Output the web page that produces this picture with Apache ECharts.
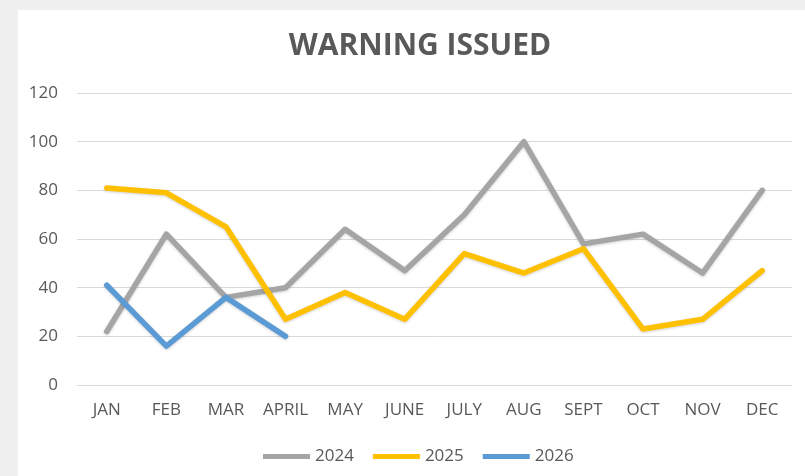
<!DOCTYPE html>
<html>
<head>
<meta charset="utf-8">
<script src="https://cdn.jsdelivr.net/npm/echarts@6/dist/echarts.min.js"></script>
<style>
  html, body { margin: 0; padding: 0; background: #f0f0f0; }
  #chart { width: 805px; height: 476px; }
</style>
</head>
<body>
<div id="chart"></div>
<script>
var months = ['JAN', 'FEB', 'MAR', 'APRIL', 'MAY', 'JUNE', 'JULY', 'AUG', 'SEPT', 'OCT', 'NOV', 'DEC']
var y2024 = [22, 62, 36, 40, 64, 47, 70, 100, 58, 62, 46, 80]
var y2025 = [81, 79, 65, 27, 38, 27, 54, 46, 56, 23, 27, 47]
var y2026 = [41, 16, 36, 20]
var seriesNames = ['2024', '2025', '2026']
var colors = ['#a5a5a5', '#ffc000', '#5b9bd5']

var chart = echarts.init(document.getElementById('chart'))

function lineSeries (name, data, color) {
  return {
    name: name,
    type: 'line',
    data: data,
    symbol: 'none',
    color: color,
    lineStyle: {
      width: 5.5,
      color: color,
      join: 'round',
      cap: 'round',
      shadowColor: 'rgba(0,0,0,0.18)',
      shadowBlur: 3,
      shadowOffsetY: 1
    }
  }
}

var option = {
  backgroundColor: '#f0f0f0',
  animation: false,
  textStyle: { fontFamily: 'Open Sans' },
  graphic: [{
    type: 'rect',
    shape: { x: 18, y: 10, width: 787, height: 466 },
    style: { fill: '#ffffff' },
    z: -10
  }],
  title: {
    text: 'WARNING ISSUED',
    left: 415,
    textAlign: 'center',
    top: 26,
    textStyle: {
      fontFamily: 'Open Sans',
      fontSize: 30,
      fontWeight: 'bold',
      color: '#595959'
    }
  },
  legend: {
    data: seriesNames,
    left: 258,
    top: 443,
    icon: 'rect',
    itemWidth: 47,
    itemHeight: 5,
    itemGap: 19,
    textStyle: { fontSize: 17, color: '#595959', fontFamily: 'Open Sans' }
  },
  grid: {
    left: 77,
    right: 13,
    top: 93,
    bottom: 91
  },
  xAxis: {
    type: 'category',
    data: months,
    boundaryGap: true,
    axisLine: { show: true, lineStyle: { color: '#d9d9d9', width: 1 } },
    axisTick: { show: false },
    axisLabel: { color: '#595959', fontSize: 17, margin: 17, interval: 0 }
  },
  yAxis: {
    type: 'value',
    min: 0,
    max: 120,
    interval: 20,
    axisLine: { show: false },
    axisTick: { show: false },
    splitLine: { lineStyle: { color: '#d9d9d9', width: 1 } },
    axisLabel: { color: '#595959', fontSize: 17, margin: 19 }
  },
  series: [
    lineSeries(seriesNames[0], y2024, colors[0]),
    lineSeries(seriesNames[1], y2025, colors[1]),
    lineSeries(seriesNames[2], y2026, colors[2])
  ]
}
chart.setOption(option)
</script>
</body>
</html>
